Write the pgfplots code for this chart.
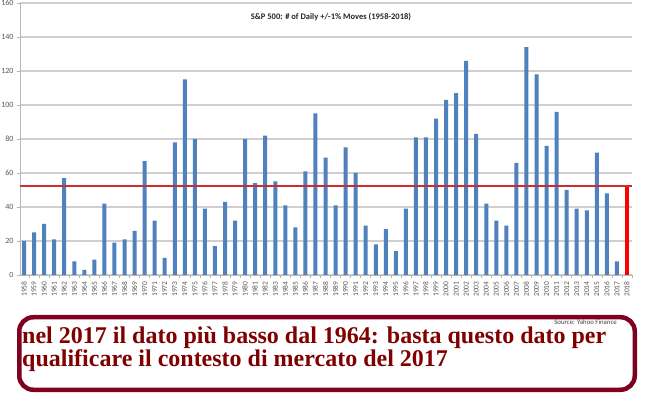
\documentclass[border=0pt]{standalone}
\usepackage{pgfplots}
\pgfplotsset{compat=1.18}
\usepackage{pgfplotstable}
\usepackage{fontspec}
\setmainfont{Carlito}
\newfontfamily\boxfont{Liberation Serif}
\definecolor{barblue}{HTML}{4F81BD}
\definecolor{maroonbox}{RGB}{128,0,32}
\definecolor{maroontext}{RGB}{128,0,0}
\definecolor{ticktext}{HTML}{595959}
\definecolor{gridgray}{HTML}{CFCFCF}
\definecolor{refred}{RGB}{205,45,45}
\pgfplotstableread{
year n
1958 20
1959 25
1960 30
1961 21
1962 57
1963 8
1964 3
1965 9
1966 42
1967 19
1968 21
1969 26
1970 67
1971 32
1972 10
1973 78
1974 115
1975 80
1976 39
1977 17
1978 43
1979 32
1980 80
1981 54
1982 82
1983 55
1984 41
1985 28
1986 61
1987 95
1988 69
1989 41
1990 75
1991 60
1992 29
1993 18
1994 27
1995 14
1996 39
1997 81
1998 81
1999 92
2000 103
2001 107
2002 126
2003 83
2004 42
2005 32
2006 29
2007 66
2008 134
2009 118
2010 76
2011 96
2012 50
2013 39
2014 38
2015 72
2016 48
2017 8
}\spdata
\begin{document}
\begin{tikzpicture}
\useasboundingbox (0,0) rectangle (647pt,396pt);
\fill[white] (0,0) rectangle (647pt,396pt);
\begin{axis}[
  at={(20pt,121pt)}, anchor=south west,
  scale only axis, width=612pt, height=272pt,
  xmin=1957.6, xmax=2018.5, ymin=0, ymax=160,
  axis x line*=bottom, axis y line*=left,
  axis line style={gray!55, line width=0.8pt, -},
  ytick={0,20,...,160},
  ymajorgrids, major grid style={gridgray, line width=1.2pt},
  xtick={1958,1959,...,2018},
  xticklabel={\pgfmathparse{int(round(\tick))}\pgfmathresult},
  minor xtick={1957.5,1958.5,...,2018.5},
  xtick style={draw=none},
  minor x tick style={draw=gray!60, line width=0.6pt},
  ytick style={draw=gray!60, line width=0.6pt},
  major tick length=3pt, minor tick length=3pt,
  tick align=outside,
  ticklabel style={font=\fontsize{8}{9}\selectfont, text=ticktext},
  xticklabel style={rotate=90, anchor=east, font=\fontsize{7.5}{8}\selectfont},
  /pgf/number format/1000 sep={},
  /pgf/number format/assume math mode=true,
  clip=false,
]
\addplot[ybar, bar width=4pt, fill=barblue, draw=none] table[x=year, y=n] {\spdata};
\addplot[ybar, bar width=4pt, fill=red, draw=none] coordinates {(2018,52)};
\addplot[refred, line width=2.4pt] coordinates {(1957.6,52.4) (2018.5,52.4)};
\end{axis}
\node[font=\fontsize{8.5}{10}\selectfont\bfseries, text=black!85] at (331pt,379.3pt) {S\&P 500: \# of Daily +/-1\% Moves (1958-2018)};
\draw[maroonbox, line width=4.5pt, rounded corners=14pt] (19.25pt,6.25pt) rectangle (634.75pt,78.75pt);
\node[anchor=east, font=\fontsize{6.8}{8}\selectfont, text=black!75, inner sep=0pt] at (617pt,74pt) {Source: Yahoo Finance};
\node[anchor=base west, inner sep=0pt, text height=16pt, text depth=5pt, font=\boxfont\bfseries\fontsize{24}{25}\selectfont, text=maroontext] at (22pt,52.7pt) {nel 2017 il dato più basso dal 1964: basta questo dato per};
\node[anchor=base west, inner sep=0pt, text height=16pt, text depth=5pt, font=\boxfont\bfseries\fontsize{24}{25}\selectfont, text=maroontext] at (22pt,29.3pt) {qualificare il contesto di mercato del 2017};
\end{tikzpicture}
\end{document}
